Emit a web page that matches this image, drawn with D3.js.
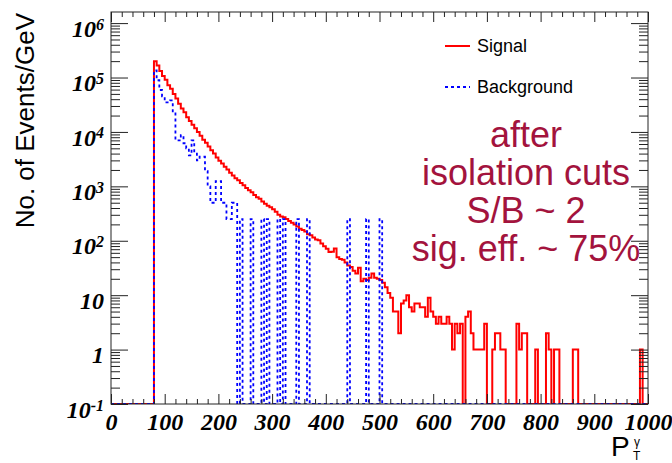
<html>
<head>
<meta charset="utf-8">
<title>Photon pT after isolation cuts</title>
<style>
  body { margin: 0; padding: 0; background: white; }
  .tlab { font-family: "Liberation Serif", serif; font-weight: bold; font-style: italic; font-size: 24px; fill: black; }
  .sans { font-family: "Liberation Sans", Arial, sans-serif; }
</style>
</head>
<body>
<div id="chart"></div>
<script src="https://d3js.org/d3.v7.min.js"></script>
<script>
// histogram bins: 5 GeV wide, data listed from 80 GeV up to 1000 GeV
var binWidth = 5, firstBin = 80, lastEdge = 1000;

var signal = [
  200000, 166000, 132000, 107000, 91000, 72000, 62000, 50000, 41000, 33000,
  27000, 23000, 18600, 15800, 13500, 11700, 10000, 8500, 7200, 6300,
  5400, 4600, 4000, 3400, 2950, 2630, 2290, 2040, 1780, 1580,
  1410, 1290, 1150, 1050, 930, 850, 780, 690, 630, 590,
  525, 480, 440, 415, 380, 340, 300, 280, 270, 250,
  230, 215, 200, 182, 166, 158, 148, 132, 126, 115,
  105, 102, 89, 79, 71, 62, 63, 72, 50, 46,
  45, 40, 35, 33, 28, 25, 32, 18, 20, 19,
  21, 25, 21, 20, 19, 17, 14, 11, 9, 5,
  5, 2, 7, 8, 10, 6, 5, 7, 7, 6,
  6, 4, 9, 5, 4, 3, 4, 3, 3, 4,
  3, 1, 3, 2, 3, 0, 4, 5, 2, 1,
  1, 1, 1, 3, 0, 0, 1, 2, 2, 1,
  1, 0, 0, 0, 0, 3, 1, 2, 2, 0,
  0, 0, 1, 0, 0, 0, 2, 1, 0, 1,
  1, 0, 0, 0, 0, 0, 1, 1, 0, 0,
  0, 0, 0, 0, 0, 0, 0, 0, 0, 0,
  0, 0, 0, 0, 0, 0, 0, 0, 0, 0,
  0, 1, 0, 0
];

var background = [
  135000, 89000, 59000, 45000, 35000, 35000, 38000, 23000, 7000, 7000,
  8700, 6200, 5000, 3700, 7000, 4000, 3000, 3500, 3500, 1900,
  1000, 500, 500, 1250, 1250, 500, 500, 250, 250, 500,
  500, 0, 250, 0, 0, 0, 250, 0, 0, 0,
  250, 0, 250, 0, 0, 0, 250, 0, 250, 0,
  0, 0, 0, 250, 0, 0, 0, 250, 0, 0,
  0, 0, 0, 0, 0, 0, 0, 0, 0, 0,
  0, 0, 250, 0, 0, 0, 0, 0, 0, 250,
  0, 0, 0, 0, 250, 0, 0, 0, 0, 0
];

var xTicks = [0, 100, 200, 300, 400, 500, 600, 700, 800, 900, 1000];
var yDecades = [-1, 0, 1, 2, 3, 4, 5, 6];
var noteLines = ["after", "isolation cuts", "S/B ~ 2", "sig. eff. ~ 75%"];
var legendNames = ["Signal", "Background"];
var legendColors = ["#ff0000", "#0000ff"];

var width = 672, height = 463;
var frame = { left: 111, right: 648, top: 12, bottom: 404 };

var svg = d3.select("#chart").append("svg")
    .attr("width", width)
    .attr("height", height);

var x = d3.scaleLinear().domain([0, 1000]).range([frame.left, frame.right]);
var y = d3.scaleLog().domain([0.1, 1.6e6]).range([frame.bottom, frame.top]);

svg.append("clipPath").attr("id", "clip")
  .append("rect")
    .attr("x", frame.left).attr("y", frame.top)
    .attr("width", frame.right - frame.left)
    .attr("height", frame.bottom - frame.top);

// turn a list of bin contents into step points (empty bins sit on the frame floor)
function steps(values) {
    var pts = [];
    for (var e = 0; e < firstBin; e += binWidth) pts.push([e, 0]);
    values.forEach(function (v, i) { pts.push([firstBin + i * binWidth, v]); });
    for (var e2 = firstBin + values.length * binWidth; e2 < lastEdge; e2 += binWidth) pts.push([e2, 0]);
    pts.push([lastEdge, 0]);
    return pts;
}

var line = d3.line()
    .x(function (d) { return x(d[0]); })
    .y(function (d) { return y(Math.max(d[1], 0.1)); })
    .curve(d3.curveStepAfter);

var hists = svg.append("g").attr("clip-path", "url(#clip)");

hists.append("path")
    .datum(steps(signal))
    .attr("d", line)
    .attr("fill", "none")
    .attr("stroke", legendColors[0])
    .attr("stroke-width", 2);

hists.append("path")
    .datum(steps(background))
    .attr("d", line)
    .attr("fill", "none")
    .attr("stroke", legendColors[1])
    .attr("stroke-width", 1.8)
    .attr("stroke-dasharray", "3,3");

// axes, ROOT style: ticks inside the frame on all four sides
var xMinor = d3.range(0, 1001, 20).filter(function (v) { return v % 100 !== 0; });
var yMajor = yDecades.map(function (p) { return Math.pow(10, p); });
var yMinor = [];
yDecades.forEach(function (p) {
    for (var k = 2; k <= 9; k++) {
        var v = k * Math.pow(10, p);
        if (v < 1.6e6) yMinor.push(v);
    }
});

function plain(g) { g.select(".domain").remove(); g.selectAll("line").attr("stroke", "#222"); }

svg.append("g").attr("transform", "translate(0," + frame.bottom + ")")
    .call(d3.axisBottom(x).tickValues(xTicks).tickSize(-10).tickPadding(9).tickFormat(d3.format("d")))
    .call(plain)
    .selectAll("text").attr("class", "tlab");
svg.append("g").attr("transform", "translate(0," + frame.bottom + ")")
    .call(d3.axisBottom(x).tickValues(xMinor).tickSize(-5).tickFormat(""))
    .call(plain);
svg.append("g").attr("transform", "translate(0," + frame.top + ")")
    .call(d3.axisTop(x).tickValues(xTicks).tickSize(-10).tickFormat(""))
    .call(plain);
svg.append("g").attr("transform", "translate(0," + frame.top + ")")
    .call(d3.axisTop(x).tickValues(xMinor).tickSize(-5).tickFormat(""))
    .call(plain);

var yAxis = svg.append("g").attr("transform", "translate(" + frame.left + ",0)")
    .call(d3.axisLeft(y).tickValues(yMajor).tickSize(-17).tickPadding(7).tickFormat(""))
    .call(plain);
svg.append("g").attr("transform", "translate(" + frame.left + ",0)")
    .call(d3.axisLeft(y).tickValues(yMinor).tickSize(-9).tickFormat(""))
    .call(plain);
svg.append("g").attr("transform", "translate(" + frame.right + ",0)")
    .call(d3.axisRight(y).tickValues(yMajor).tickSize(-17).tickFormat(""))
    .call(plain);
svg.append("g").attr("transform", "translate(" + frame.right + ",0)")
    .call(d3.axisRight(y).tickValues(yMinor).tickSize(-9).tickFormat(""))
    .call(plain);

// y labels: 10^n written with a raised exponent, except 1 and 10
yAxis.selectAll(".tick").each(function (d, i) {
    var p = yDecades[i];
    var t = d3.select(this).select("text")
        .attr("class", "tlab")
        .attr("x", -7)
        .attr("dy", "0.55em")
        .text(null);
    if (p === 0) { t.text("1"); return; }
    if (p === 1) { t.text("10"); return; }
    t.append("tspan").text("10");
    t.append("tspan").attr("dy", "-0.45em").attr("font-size", "16px").text(p);
});

// frame
svg.append("rect")
    .attr("x", frame.left).attr("y", frame.top)
    .attr("width", frame.right - frame.left)
    .attr("height", frame.bottom - frame.top)
    .attr("fill", "none")
    .attr("stroke", "#222")
    .attr("stroke-width", 1);

// axis titles
svg.append("text")
    .attr("class", "sans")
    .attr("transform", "translate(34," + 13 + ") rotate(-90)")
    .attr("text-anchor", "end")
    .attr("font-size", "26px")
    .text("No. of Events/GeV");

var xt = svg.append("g").attr("class", "sans");
xt.append("text").attr("font-size", "28px").attr("x", 611).attr("y", 456).text("P");
xt.append("text").attr("font-size", "12px").attr("x", 634).attr("y", 446).text("γ");
xt.append("text").attr("font-size", "12px").attr("x", 633).attr("y", 460).text("T");

// legend
var leg = svg.append("g").selectAll("g")
    .data(legendNames)
    .enter().append("g")
    .attr("transform", function (d, i) { return "translate(445," + (46 + i * 41) + ")"; });
leg.append("line")
    .attr("x1", 0).attr("x2", 25)
    .attr("stroke", function (d, i) { return legendColors[i]; })
    .attr("stroke-width", 2)
    .attr("stroke-dasharray", function (d, i) { return i ? "3,3" : null; });
leg.append("text")
    .attr("class", "sans")
    .attr("x", 32).attr("y", 6)
    .attr("font-size", "18px")
    .text(function (d) { return d; });

// annotation
svg.append("g").selectAll("text")
    .data(noteLines)
    .enter().append("text")
    .attr("class", "sans")
    .attr("x", 526)
    .attr("y", function (d, i) { return 147 + i * 38; })
    .attr("text-anchor", "middle")
    .attr("font-size", "36px")
    .attr("fill", "#a3133d")
    .text(function (d) { return d; });
</script>
</body>
</html>
